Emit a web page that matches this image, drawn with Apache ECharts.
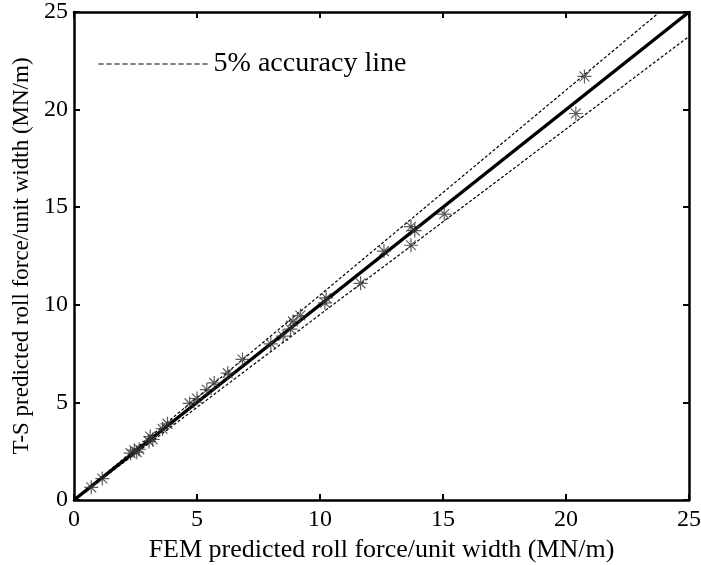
<!DOCTYPE html>
<html>
<head>
<meta charset="utf-8">
<script src="https://cdn.jsdelivr.net/npm/echarts@6/dist/echarts.min.js"></script>
<style>
  html, body { margin: 0; padding: 0; background: #fff; }
  #chart { width: 701px; height: 565px; }
</style>
</head>
<body>
<div id="chart"></div>
<script>
// FEM vs T-S predicted roll force (MN/m)
const femValues = [0.7, 1.15, 2.3, 2.45, 2.55, 2.65, 3.05, 3.1, 3.2, 3.6, 3.8, 4.7, 5.0, 5.4, 5.7, 6.25, 6.85,
    8.0, 8.5, 8.8, 8.9, 9.2, 10.2, 10.25, 11.65, 12.6, 13.7, 13.85, 13.7, 15.05, 20.4, 20.75];
const tsValues = [0.65, 1.1, 2.4, 2.55, 2.45, 2.6, 3.0, 3.25, 3.1, 3.65, 3.9, 4.95, 5.2, 5.65, 6.0, 6.5, 7.2,
    8.0, 8.4, 8.75, 9.15, 9.45, 10.1, 10.35, 11.1, 12.75, 14.0, 13.8, 13.05, 14.65, 19.8, 21.7];
const axisMin = 0;
const axisMax = 25;
const tickStep = 5;
const accuracy = 0.05;

const points = femValues.map((x, i) => [x, tsValues[i]]);
const idealLine = [[axisMin, axisMin], [axisMax, axisMax]];
const upperLine = [[0, 0], [axisMax / (1 + accuracy), axisMax]];
const lowerLine = [[0, 0], [axisMax, axisMax * (1 - accuracy)]];

const font = "Liberation Serif";
const star = "path://M0,-10L0,10M-10,0L10,0M-7,-7L7,7M-7,7L7,-7";

const myChart = echarts.init(document.getElementById("chart"));

function makeAxis(position, extra) {
    return Object.assign({
        type: "value",
        position: position,
        min: axisMin,
        max: axisMax,
        interval: tickStep,
        splitLine: { show: false },
        axisLine: { show: true, onZero: false, lineStyle: { color: "#000", width: 2.5 } },
        axisTick: { show: true, inside: true, length: 6, lineStyle: { color: "#000", width: 2 } },
        axisLabel: { show: false },
    }, extra);
}

const option = {
    animation: false,
    backgroundColor: "#fff",
    grid: { left: 74, right: 12, top: 12, bottom: 65, containLabel: false, outerBoundsMode: "none" },
    legend: {
        left: 93,
        top: 45,
        data: ["5% accuracy line"],
        itemWidth: 110,
        itemHeight: 6,
        itemGap: 8,
        itemStyle: { opacity: 0 },
        lineStyle: { color: "#000", width: 1.2, type: [5, 3] },
        textStyle: { fontFamily: font, fontSize: 28, color: "#000" },
    },
    xAxis: [
        makeAxis("bottom", {
            name: "FEM predicted roll force/unit width (MN/m)",
            nameLocation: "middle",
            nameGap: 37,
            nameTextStyle: { fontFamily: font, fontSize: 26, color: "#000" },
            axisLabel: { show: true, fontFamily: font, fontSize: 24, color: "#000", margin: 8 },
        }),
        makeAxis("top"),
    ],
    yAxis: [
        makeAxis("left", {
            name: "T-S predicted roll force/unit width (MN/m)",
            nameLocation: "middle",
            nameGap: 39,
            nameTextStyle: { fontFamily: font, fontSize: 23, color: "#000" },
            axisLabel: { show: true, fontFamily: font, fontSize: 24, color: "#000", margin: 6 },
        }),
        makeAxis("right"),
    ],
    series: [
        {
            name: "5% accuracy line",
            type: "line",
            data: upperLine,
            symbol: "none",
            itemStyle: { color: "#000" },
            lineStyle: { color: "#000", width: 1.2, type: [3, 2] },
            z: 2,
        },
        {
            name: "lower",
            type: "line",
            data: lowerLine,
            symbol: "none",
            lineStyle: { color: "#000", width: 1.2, type: [3, 2] },
            z: 2,
        },
        {
            name: "ideal",
            type: "line",
            data: idealLine,
            symbol: "none",
            lineStyle: { color: "#000", width: 3.5 },
            z: 3,
        },
        {
            name: "data",
            type: "scatter",
            data: points,
            symbol: star,
            symbolSize: 14,
            itemStyle: { color: "none", borderColor: "#333", borderWidth: 1.2 },
            z: 4,
        },
    ],
};

myChart.setOption(option);
window.addEventListener("resize", function () {
    myChart.resize();
});
</script>
</body>
</html>
